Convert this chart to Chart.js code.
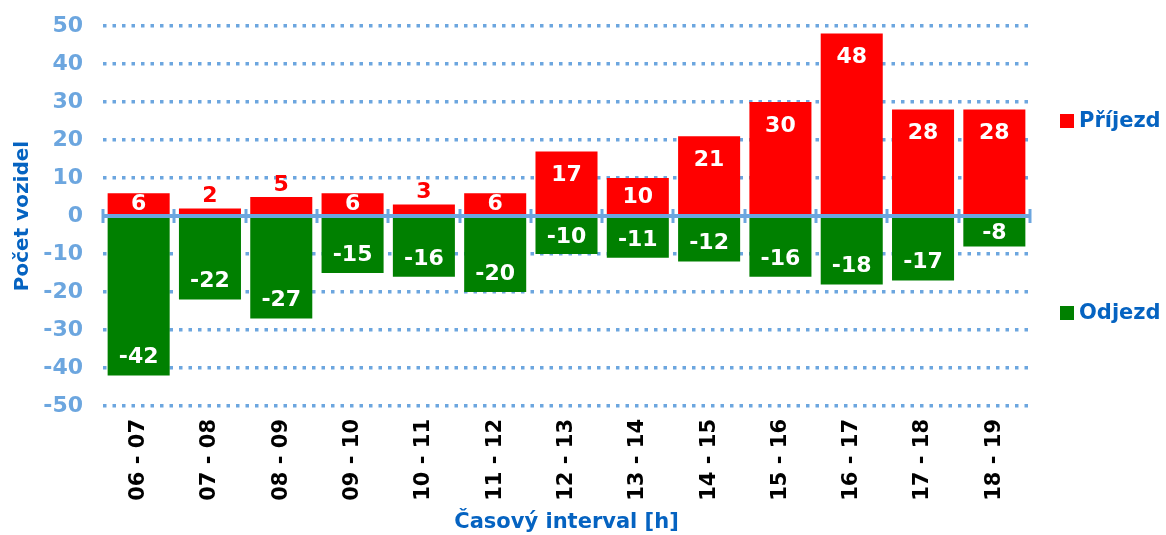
<!DOCTYPE html>
<html>
<head>
<meta charset="utf-8">
<script src="https://cdn.jsdelivr.net/npm/chart.js@4"></script>
<style>
html, body { margin: 0; padding: 0; background: #fff; }
#wrap { width: 1166px; height: 535px; }
</style>
</head>
<body>
<div id="wrap"><canvas id="graf"></canvas></div>
<script>
// Data
const intervaly = ['06 - 07', '07 - 08', '08 - 09', '09 - 10', '10 - 11', '11 - 12', '12 - 13',
                   '13 - 14', '14 - 15', '15 - 16', '16 - 17', '17 - 18', '18 - 19'];
const prijezd = [6, 2, 5, 6, 3, 6, 17, 10, 21, 30, 48, 28, 28];
const odjezd = [-42, -22, -27, -15, -16, -20, -10, -11, -12, -16, -18, -17, -8];
const yMin = -50, yMax = 50, yKrok = 10;

const CERVENA = '#FF0000';
const ZELENA = '#008000';
const MODRA_OSA = '#6CA6DF';
const MODRA_TEXT = '#0563C1';
const PISMO = '"DejaVu Sans", Verdana, sans-serif';

// nulová osa, popisky hodnot a legenda
const popiskyPlugin = {
    id: 'popisky',
    afterDatasetsDraw(chart) {
        const ctx = chart.ctx;
        const area = chart.chartArea;
        const xs = chart.scales.x;
        const y0 = chart.scales.y.getPixelForValue(0);
        const sirka = xs.width / intervaly.length;

        ctx.save();
        ctx.strokeStyle = MODRA_OSA;
        ctx.lineWidth = 4;
        ctx.beginPath();
        ctx.moveTo(area.left, y0);
        ctx.lineTo(area.right, y0);
        ctx.stroke();
        ctx.lineWidth = 3;
        for (let i = 0; i <= intervaly.length; i++) {
            const px = Math.round(xs.getPixelForValue(0) - sirka / 2 + i * sirka);
            ctx.beginPath();
            ctx.moveTo(px, y0 - 7);
            ctx.lineTo(px, y0 + 7);
            ctx.stroke();
        }

        ctx.font = 'bold 22px ' + PISMO;
        ctx.textAlign = 'center';
        ctx.textBaseline = 'middle';
        chart.data.datasets.forEach((ds, di) => {
            chart.getDatasetMeta(di).data.forEach((bar, i) => {
                const v = ds.data[i];
                const h = Math.abs(bar.base - bar.y);
                const stred = (bar.y + bar.base) / 2;
                let py;
                ctx.fillStyle = '#fff';
                if (h < 18) {
                    py = v > 0 ? bar.y - 13 : bar.y + 13;
                    ctx.fillStyle = ds.backgroundColor;
                } else if (v > 0) {
                    py = Math.min(bar.y + 23, stred);
                } else {
                    py = Math.max(bar.y - 19, stred);
                }
                ctx.fillText(String(v), bar.x, py + 1);
            });
        });

        // legenda vpravo
        const lx = area.right + 30;
        const polohy = [y0 - 95, y0 + 97];
        ctx.font = 'bold 21px ' + PISMO;
        ctx.textAlign = 'left';
        chart.data.datasets.forEach((ds, di) => {
            const ly = polohy[di];
            ctx.fillStyle = ds.backgroundColor;
            ctx.fillRect(lx, ly - 7, 14, 14);
            ctx.fillStyle = MODRA_TEXT;
            ctx.fillText(ds.label, lx + 19, ly + 1);
        });
        ctx.restore();
    }
};

new Chart(document.getElementById('graf').getContext('2d'), {
    type: 'bar',
    data: {
        labels: intervaly,
        datasets: [
            { label: 'Příjezd', data: prijezd, backgroundColor: CERVENA },
            { label: 'Odjezd', data: odjezd, backgroundColor: ZELENA }
        ]
    },
    options: {
        responsive: true,
        maintainAspectRatio: false,
        animation: false,
        barPercentage: 0.87,
        categoryPercentage: 1,
        layout: { padding: { top: 26, right: 136, bottom: 0, left: 8 } },
        plugins: {
            legend: { display: false },
            tooltip: { enabled: false }
        },
        scales: {
            x: {
                stacked: true,
                afterFit: s => { s.height = 129; },
                grid: { display: false, drawTicks: false },
                border: { display: false },
                ticks: {
                    color: '#000',
                    font: { family: PISMO, size: 21, weight: 'bold' },
                    minRotation: 90,
                    maxRotation: 90,
                    padding: 13
                },
                title: {
                    display: true,
                    text: 'Časový interval [h]',
                    color: MODRA_TEXT,
                    font: { family: PISMO, size: 21, weight: 'bold' },
                    padding: { top: 6, bottom: 0 }
                }
            },
            y: {
                stacked: true,
                min: yMin,
                max: yMax,
                afterFit: s => { s.width = 95; s.paddingTop = 0; s.paddingBottom = 0; },
                ticks: {
                    stepSize: yKrok,
                    color: MODRA_OSA,
                    font: { family: PISMO, size: 22, weight: 'bold' },
                    padding: 20
                },
                grid: {
                    color: c => c.tick && c.tick.value === 0 ? 'rgba(0,0,0,0)' : MODRA_OSA,
                    lineWidth: 3.5,
                    drawTicks: false
                },
                border: { display: false, dash: [3.5, 6] },
                title: {
                    display: true,
                    text: 'Počet vozidel',
                    color: MODRA_TEXT,
                    font: { family: PISMO, size: 20, weight: 'bold' },
                    padding: { top: 3, bottom: 0 }
                }
            }
        }
    },
    plugins: [popiskyPlugin]
});
</script>
</body>
</html>
